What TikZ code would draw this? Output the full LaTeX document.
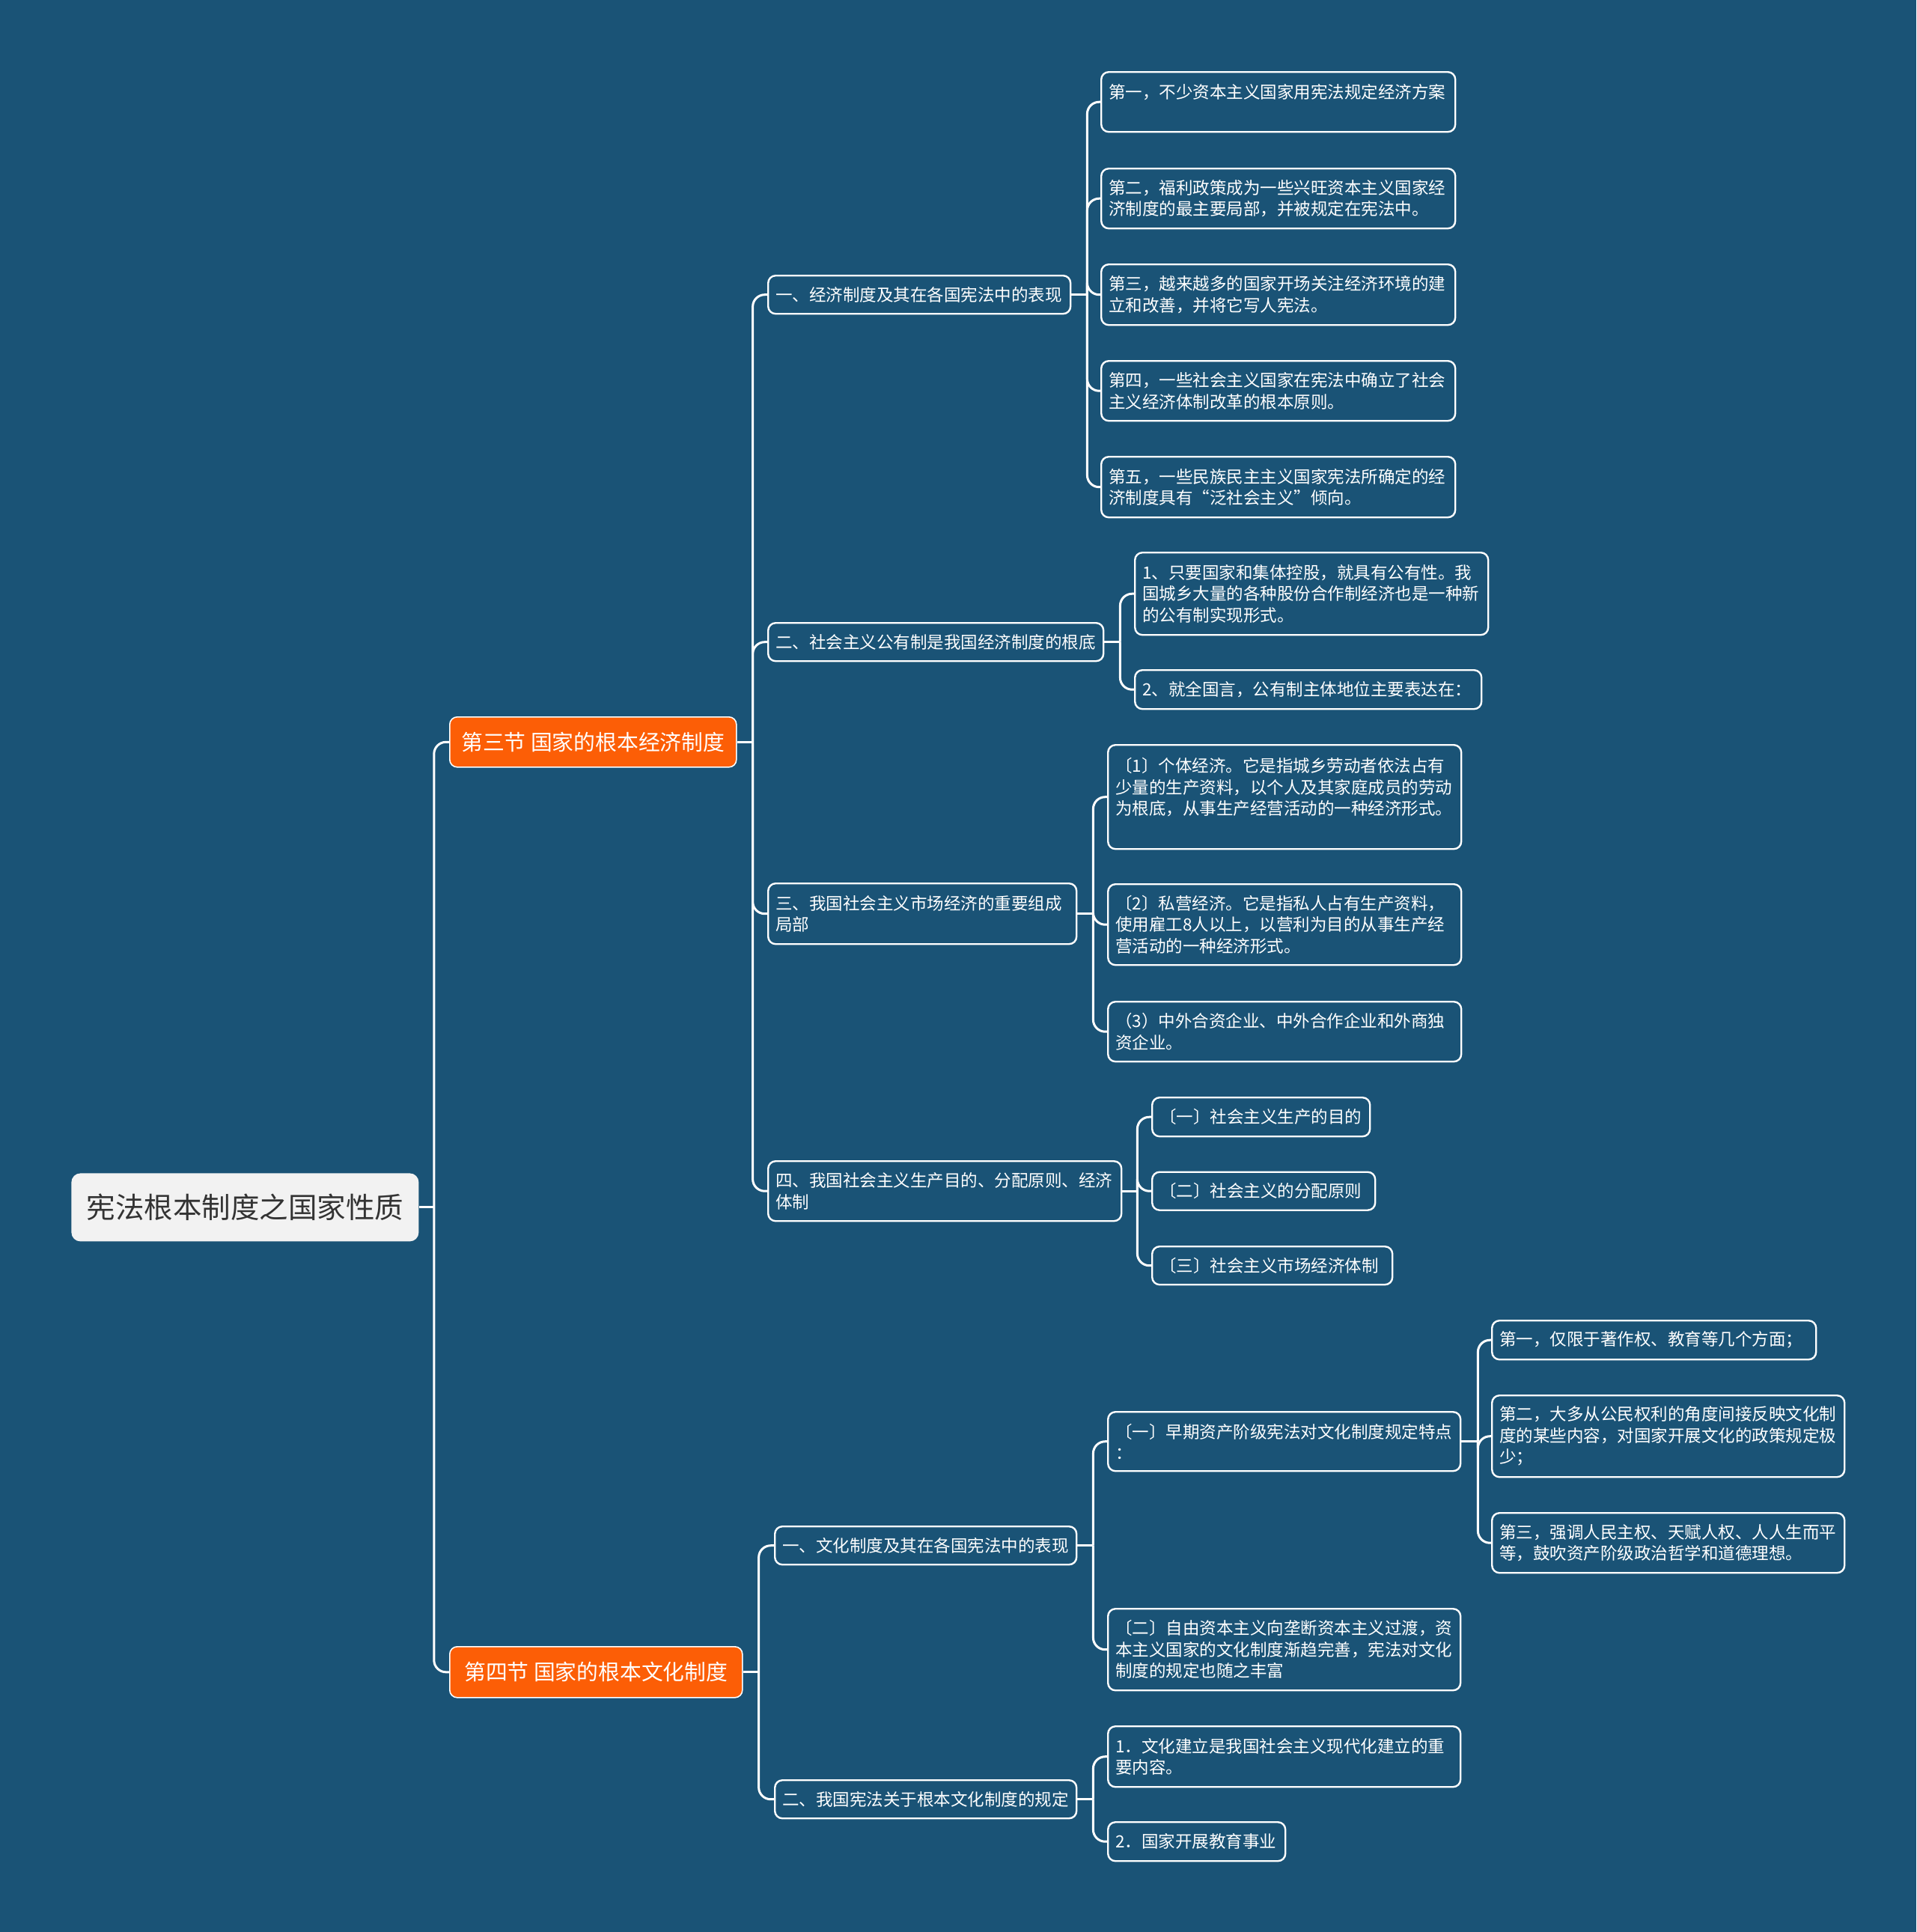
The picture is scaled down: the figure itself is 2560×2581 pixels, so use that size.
\documentclass[tikz,border=0pt]{standalone}
\usepackage{fontspec}
\setmainfont{Noto Sans CJK SC}
\usetikzlibrary{calc}
\definecolor{bg}{RGB}{26,83,118}
\definecolor{org}{RGB}{252,94,6}
\definecolor{rootfill}{RGB}{242,242,242}
\definecolor{roottext}{RGB}{51,51,51}
\tikzset{
 box/.style={draw=white, line width=1.2pt, rounded corners=5pt, fill=bg, text=white, align=left, inner xsep=5pt, inner ysep=3pt, anchor=north west, font=\fontsize{11.25pt}{14.25pt}\selectfont},
 sec/.style={draw=white, line width=0.8pt, rounded corners=5pt, fill=org, text=white, inner sep=0pt, anchor=north west, font=\fontsize{14.4pt}{17pt}\selectfont},
 rootbox/.style={fill=rootfill, text=roottext, rounded corners=6pt, inner sep=0pt, anchor=north west, font=\fontsize{19.25pt}{23pt}\selectfont},
 link/.style={draw=white, line width=1.5pt, rounded corners=8pt},
}
\begin{document}
\begin{tikzpicture}[x=0.5pt, y=-0.5pt]
\fill[bg] (0,0) rectangle (2560,2581);
\useasboundingbox (0,0) rectangle (2560,2581);

% level 0 / 1
\node[rootbox, minimum width=232pt, minimum height=45.5pt] (root) at (95,1567) {宪法根本制度之国家性质};
\node[sec, minimum width=191.5pt, minimum height=33.5pt] (s3) at (600,957) {第三节 国家的根本经济制度};
\node[sec, minimum width=195.5pt, minimum height=34pt] (s4) at (600,2199) {第四节 国家的根本文化制度};

% level 2 under s3
\node[box, text width=192pt, minimum height=25.5pt] (A1) at (1025,367) {一、经济制度及其在各国宪法中的表现};
\node[box, text width=214pt, minimum height=25.5pt] (A2) at (1025,831) {二、社会主义公有制是我国经济制度的根底};
\node[box, text width=196pt, minimum height=40.5pt] (A3) at (1025,1179) {三、我国社会主义市场经济的重要组成\\局部};
\node[box, text width=226pt, minimum height=40pt] (A4) at (1025,1550) {四、我国社会主义生产目的、分配原则、经济\\体制};

% level 3 under A1
\node[box, text width=226.5pt, minimum height=40pt] (A1a) at (1470,95) {第一，不少资本主义国家用宪法规定经济方案\\\mbox{}};
\node[box, text width=226.5pt, minimum height=40pt] (A1b) at (1470,224) {第二，福利政策成为一些兴旺资本主义国家经\\济制度的最主要局部，并被规定在宪法中。};
\node[box, text width=226.5pt, minimum height=40.5pt] (A1c) at (1470,352) {第三，越来越多的国家开场关注经济环境的建\\立和改善，并将它写人宪法。};
\node[box, text width=226.5pt, minimum height=40pt] (A1d) at (1470,481) {第四，一些社会主义国家在宪法中确立了社会\\主义经济体制改革的根本原则。};
\node[box, text width=226.5pt, minimum height=40.5pt] (A1e) at (1470,609) {第五，一些民族民主主义国家宪法所确定的经\\济制度具有“泛社会主义”倾向。};

% level 3 under A2
\node[box, text width=226pt, minimum height=55pt] (A2a) at (1515,737) {1、只要国家和集体控股，就具有公有性。我\\国城乡大量的各种股份合作制经济也是一种新\\的公有制实现形式。};
\node[box, text width=221.5pt, minimum height=26pt] (A2b) at (1515,894) {2、就全国言，公有制主体地位主要表达在：};

% level 3 under A3
\node[box, text width=226pt, minimum height=69.5pt] (A3a) at (1479,994) {〔1〕个体经济。它是指城乡劳动者依法占有\\少量的生产资料，以个人及其家庭成员的劳动\\为根底，从事生产经营活动的一种经济形式。\\\mbox{}};
\node[box, text width=226pt, minimum height=54pt] (A3b) at (1479,1180) {〔2〕私营经济。它是指私人占有生产资料，\\使用雇工8人以上，以营利为目的从事生产经\\营活动的一种经济形式。};
\node[box, text width=226pt, minimum height=40pt] (A3c) at (1479,1337) {（3）中外合资企业、中外合作企业和外商独\\资企业。};

% level 3 under A4
\node[box, text width=135.5pt, minimum height=26pt] (A4a) at (1538,1465) {〔一〕社会主义生产的目的};
\node[box, text width=139pt, minimum height=25.5pt] (A4b) at (1538,1564.5) {〔二〕社会主义的分配原则};
\node[box, text width=150.5pt, minimum height=25.5pt] (A4c) at (1538,1664) {〔三〕社会主义市场经济体制};

% level 2 under s4
\node[box, text width=191.5pt, minimum height=25.5pt] (B1) at (1034,2038) {一、文化制度及其在各国宪法中的表现};
\node[box, text width=191.5pt, minimum height=25.5pt] (B2) at (1034,2377) {二、我国宪法关于根本文化制度的规定};

% level 3 under B1
\node[box, text width=225.5pt, minimum height=39.5pt] (B1a) at (1479,1885) {〔一〕早期资产阶级宪法对文化制度规定特点\\：};
\node[box, text width=225.5pt, minimum height=54.5pt] (B1b) at (1479,2148) {〔二〕自由资本主义向垄断资本主义过渡，资\\本主义国家的文化制度渐趋完善，宪法对文化\\制度的规定也随之丰富};

% level 4 under B1a
\node[box, text width=206.5pt, minimum height=26pt] (B1a1) at (1992,1763) {第一，仅限于著作权、教育等几个方面；};
\node[box, text width=225.5pt, minimum height=54.5pt] (B1a2) at (1992,1863) {第二，大多从公民权利的角度间接反映文化制\\度的某些内容，对国家开展文化的政策规定极\\少；};
\node[box, text width=225.5pt, minimum height=40pt] (B1a3) at (1992,2020) {第三，强调人民主权、天赋人权、人人生而平\\等，鼓吹资产阶级政治哲学和道德理想。};

% level 3 under B2
\node[box, text width=225.5pt, minimum height=40.5pt] (B2a) at (1479,2305) {1．文化建立是我国社会主义现代化建立的重\\要内容。};
\node[box, text width=108.5pt, minimum height=26pt] (B2b) at (1479,2433) {2．国家开展教育事业};

% connectors
\draw[link] (root.east) -- ++(20,0) coordinate (jr);
\foreach \c in {s3,s4} \draw[link] (jr) |- (\c.west);

\draw[link] (s3.east) -- ++(21,0) coordinate (j3);
\foreach \c in {A1,A2,A3,A4} \draw[link] (j3) |- (\c.west);

\draw[link] (A1.east) -- ++(21,0) coordinate (jA1);
\foreach \c in {A1a,A1b,A1c,A1d,A1e} \draw[link] (jA1) |- (\c.west);

\draw[link] (A2.east) -- ++(21,0) coordinate (jA2);
\foreach \c in {A2a,A2b} \draw[link] (jA2) |- (\c.west);

\draw[link] (A3.east) -- ++(21,0) coordinate (jA3);
\foreach \c in {A3a,A3b,A3c} \draw[link] (jA3) |- (\c.west);

\draw[link] (A4.east) -- ++(20,0) coordinate (jA4);
\foreach \c in {A4a,A4b,A4c} \draw[link] (jA4) |- (\c.west);

\draw[link] (s4.east) -- ++(21,0) coordinate (j4);
\foreach \c in {B1,B2} \draw[link] (j4) |- (\c.west);

\draw[link] (B1.east) -- ++(21,0) coordinate (jB1);
\foreach \c in {B1a,B1b} \draw[link] (jB1) |- (\c.west);

\draw[link] (B1a.east) -- ++(22,0) coordinate (jB1a);
\foreach \c in {B1a1,B1a2,B1a3} \draw[link] (jB1a) |- (\c.west);

\draw[link] (B2.east) -- ++(21,0) coordinate (jB2);
\foreach \c in {B2a,B2b} \draw[link] (jB2) |- (\c.west);
\end{tikzpicture}
\end{document}
